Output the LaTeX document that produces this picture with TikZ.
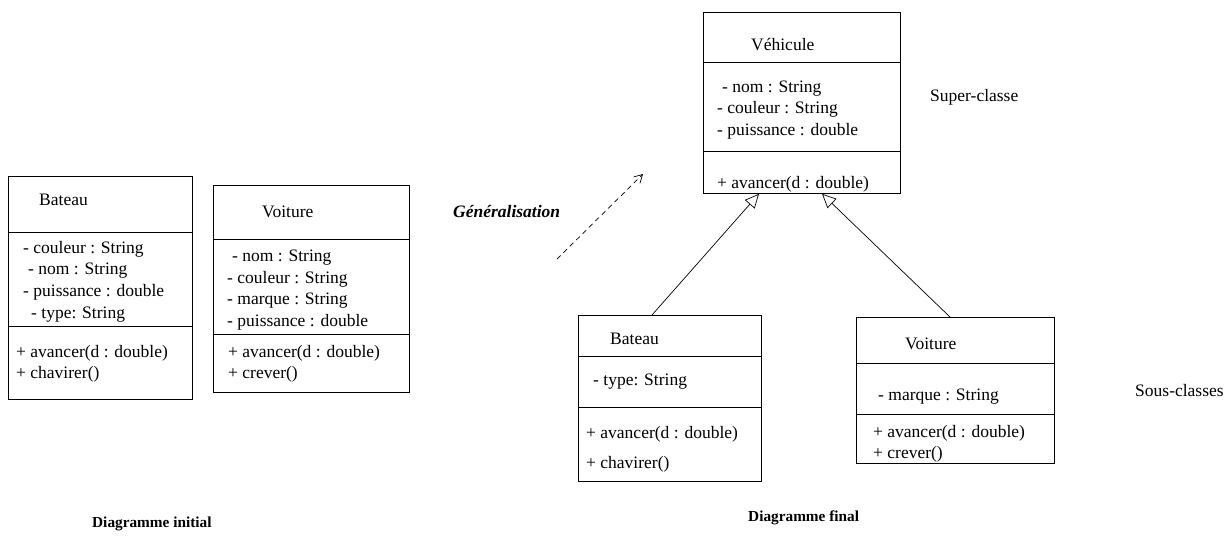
\documentclass[tikz,border=0pt]{standalone}
\usepackage{fontspec}
\setmainfont{Liberation Serif}
\usetikzlibrary{arrows.meta,calc}
\begin{document}
\begin{tikzpicture}[x=1pt,y=-1pt,
  classbox/.style={draw,line width=0.8pt,anchor=north west,inner sep=0pt},
  divider/.style={line width=0.8pt},
  txt/.style={anchor=base west,inner sep=0pt,font=\fontsize{17.5}{21}\selectfont},
  lbl/.style={anchor=base west,inner sep=0pt,font=\fontsize{15.3}{18}\selectfont\bfseries},
  inherit/.style={line width=0.7pt,-{Triangle[open,length=14pt,width=13pt]}},
  gen/.style={line width=0.7pt,dash pattern=on 5pt off 4pt,-{Straight Barb[length=8pt,width=9pt]}}
]
\useasboundingbox (0,0) rectangle (1231,536);

% ---------- Diagramme initial : Bateau ----------
\node[classbox,minimum width=184pt,minimum height=223pt] (b1) at (8,176) {};
\draw[divider] (b1.west |- 0,232) -- (b1.east |- 0,232);
\draw[divider] (b1.west |- 0,326) -- (b1.east |- 0,326);
\node[txt] (b1t) at (39,205) {Bateau};
\node[txt] (b1a1) at (23,253) {- couleur : String};
\node[txt] (b1a2) at (28,274) {- nom : String};
\node[txt] (b1a3) at (23,296) {- puissance : double};
\node[txt] (b1a4) at (31,318) {- type: String};
\node[txt] (b1m1) at (16,357) {+ avancer(d : double)};
\node[txt] (b1m2) at (16,378) {+ chavirer()};

% ---------- Diagramme initial : Voiture ----------
\node[classbox,minimum width=196pt,minimum height=207pt] (v1) at (213,185) {};
\draw[divider] (v1.west |- 0,239) -- (v1.east |- 0,239);
\draw[divider] (v1.west |- 0,334) -- (v1.east |- 0,334);
\node[txt] (v1t) at (262,217) {Voiture};
\node[txt] (v1a1) at (232,261) {- nom : String};
\node[txt] (v1a2) at (227,283) {- couleur : String};
\node[txt] (v1a3) at (227,304) {- marque : String};
\node[txt] (v1a4) at (227,326) {- puissance : double};
\node[txt] (v1m1) at (228,357) {+ avancer(d : double)};
\node[txt] (v1m2) at (228,378) {+ crever()};

% ---------- Generalisation ----------
\node[anchor=base west,inner sep=0pt,font=\fontsize{17.5}{21}\selectfont\bfseries\itshape] (gl) at (453,217) {Généralisation};
\coordinate (g0) at (557,259);
\coordinate (g1) at (643,174);
\draw[gen] (g0) -- (g1);

% ---------- Diagramme final : Vehicule ----------
\node[classbox,minimum width=197pt,minimum height=181pt] (ve) at (703,12) {};
\draw[divider] (ve.west |- 0,62) -- (ve.east |- 0,62);
\draw[divider] (ve.west |- 0,151) -- (ve.east |- 0,151);
\node[txt] (vet) at (751,50) {Véhicule};
\node[txt] (vea1) at (722,92) {- nom : String};
\node[txt] (vea2) at (717,113) {- couleur : String};
\node[txt] (vea3) at (717,135) {- puissance : double};
\node[txt] (vem1) at (717,188) {+ avancer(d : double)};

% ---------- Diagramme final : Bateau ----------
\node[classbox,minimum width=183pt,minimum height=166pt] (b2) at (578,315) {};
\draw[divider] (b2.west |- 0,356) -- (b2.east |- 0,356);
\draw[divider] (b2.west |- 0,407) -- (b2.east |- 0,407);
\node[txt] (b2t) at (610,344) {Bateau};
\node[txt] (b2a1) at (593,385) {- type: String};
\node[txt] (b2m1) at (586,438) {+ avancer(d : double)};
\node[txt] (b2m2) at (586,468) {+ chavirer()};

% ---------- Diagramme final : Voiture ----------
\node[classbox,minimum width=198pt,minimum height=146pt] (v2) at (856,317) {};
\draw[divider] (v2.west |- 0,363) -- (v2.east |- 0,363);
\draw[divider] (v2.west |- 0,414) -- (v2.east |- 0,414);
\node[txt] (v2t) at (905,349) {Voiture};
\node[txt] (v2a1) at (878,400) {- marque : String};
\node[txt] (v2m1) at (873,437) {+ avancer(d : double)};
\node[txt] (v2m2) at (873,458) {+ crever()};

% ---------- inheritance ----------
\draw[inherit] ([xshift=74pt]b2.north west) -- ([xshift=56pt]ve.south west);
\draw[inherit] ([xshift=94pt]v2.north west) -- ([xshift=119pt]ve.south west);

% ---------- labels ----------
\node[txt] (sup) at (930,101) {Super-classe};
\node[txt] (sous) at (1135,396) {Sous-classes};
\node[lbl] (di) at (92,527) {Diagramme initial};
\node[lbl] (df) at (748,521) {Diagramme final};
\end{tikzpicture}
\end{document}
